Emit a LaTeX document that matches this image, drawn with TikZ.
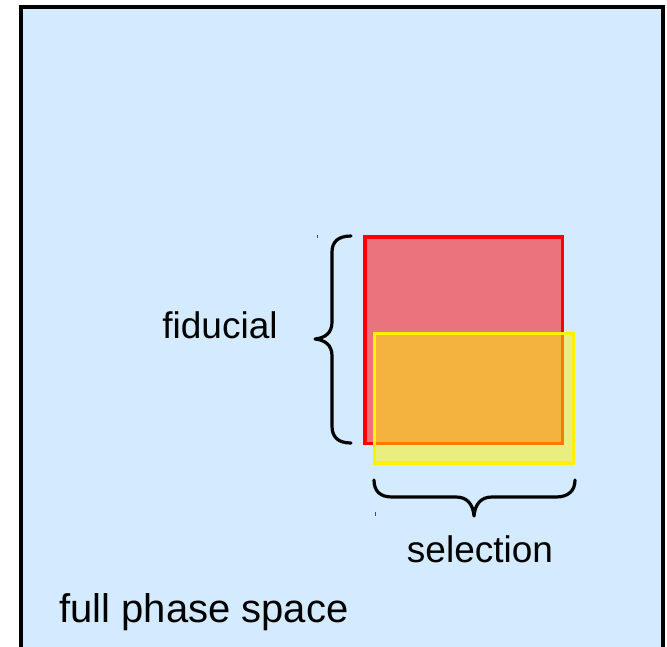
\documentclass[tikz,border=0pt]{standalone}
\usepackage{fontspec}
\setmainfont{Liberation Sans}
\definecolor{spacebg}{RGB}{212,234,254}
\begin{document}
\begin{tikzpicture}[x=0.5pt,y=-0.5pt,
  label/.style={inner sep=0pt,font=\fontsize{18.5}{22}\selectfont},
  biglabel/.style={inner sep=0pt,font=\fontsize{20}{24}\selectfont},
  brace/.style={line width=1.6pt,line cap=round,line join=round},
  fidbox/.style={draw=red,line width=1.6pt,fill=red,fill opacity=0.5,draw opacity=1},
  selbox/.style={draw=yellow,line width=1.6pt,fill=yellow,fill opacity=0.5,draw opacity=1},
  speck/.style={line width=0.4pt,black!70}]
\useasboundingbox (0,0) rectangle (667,646);
\clip (0,0) rectangle (667,646);

% full phase space
\draw[line width=2pt,fill=spacebg] (21,7.5) rectangle (663,680);

% fiducial and selection regions
\draw[fidbox] (365,237) rectangle (562.5,443.5);
\draw[selbox] (374.5,333.5) rectangle (573.5,463);

% braces
\draw[brace] (351,236) .. controls (338,236) and (332,242) .. (332,252)
  -- (332,322) .. controls (332,333) and (325,338) .. (315,339)
  .. controls (325,340) and (332,345) .. (332,356)
  -- (332,426) .. controls (332,437) and (338,443) .. (351,443);
\draw[brace] (374,480) .. controls (374,491) and (380,497) .. (392,497)
  -- (456,497) .. controls (467,497) and (473,504) .. (474,516)
  .. controls (475,504) and (481,497) .. (492,497)
  -- (556,497) .. controls (568,497) and (575,491) .. (575,480);

% small specks
\draw[speck] (317,235) -- (317,238);
\draw[speck] (375,512) -- (375,516);

% labels
\node[label,anchor=base] (fid) at (220,338) {fiducial};
\node[label,anchor=base] (sel) at (480,562) {selection};
\node[biglabel,anchor=base west] (fps) at (59,622) {full phase space};
\end{tikzpicture}
\end{document}
